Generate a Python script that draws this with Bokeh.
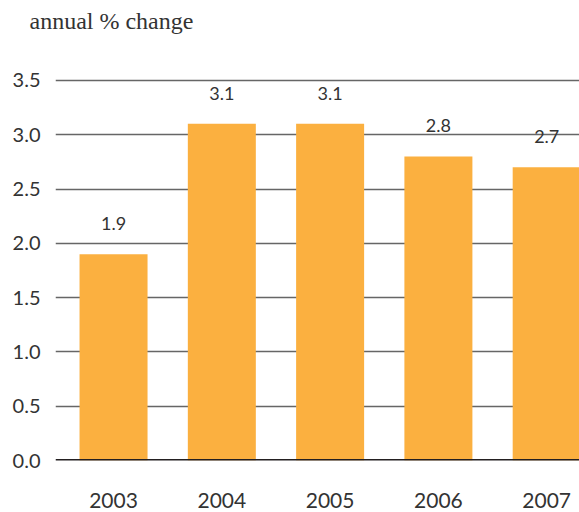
from bokeh.plotting import figure
from bokeh.models import ColumnDataSource, Range1d, FixedTicker, NumeralTickFormatter, Span, LabelSet
from bokeh.core.properties import value
from bokeh.embed import file_html
from bokeh.resources import INLINE

years = [2003, 2004, 2005, 2006, 2007]
values = [1.9, 3.1, 3.1, 2.8, 2.7]
value_labels = ["1.9", "3.1", "3.1", "2.8", "2.7"]
y_ticks = [0.0, 0.5, 1.0, 1.5, 2.0, 2.5, 3.0, 3.5]
y_axis_title = "annual % change"

src = ColumnDataSource(dict(x=years, top=values, lab=value_labels))

p = figure(width=579, height=512, output_backend="svg", toolbar_location=None,
           x_range=Range1d(2002.464, 2007.303), y_range=Range1d(0, 3.886),
           min_border_left=55, min_border_right=0, min_border_bottom=52, min_border_top=0)
p.outline_line_color = None
p.background_fill_color = "white"
p.border_fill_color = "white"

p.title.text = y_axis_title
p.title.align = "left"
p.title.offset = -26
p.title.text_font = "Liberation Serif"
p.title.text_font_style = "normal"
p.title.text_font_size = "24px"
p.title.text_color = "#333333"

p.vbar(x="x", top="top", width=0.628, bottom=0, source=src, color="#FBB040", line_color=None)

p.add_layout(Span(location=0, dimension="width", line_color="#231f20", line_width=3, level="overlay"))

labels = LabelSet(x="x", y="top", text="lab", source=src, y_offset=24, text_align="center",
                  text_baseline="alphabetic", text_font=value("Lato"), text_font_size=value("18px"),
                  text_color=value("#333333"))
p.add_layout(labels)

p.xgrid.grid_line_color = None
p.ygrid.grid_line_color = "#666666"
p.ygrid.grid_line_width = 1.5
p.ygrid.ticker = FixedTicker(ticks=y_ticks)

p.yaxis.ticker = FixedTicker(ticks=y_ticks)
p.yaxis.formatter = NumeralTickFormatter(format="0.0")
p.xaxis.ticker = FixedTicker(ticks=years)
for ax in (p.xaxis, p.yaxis):
    ax.axis_line_color = None
    ax.major_tick_line_color = None
    ax.minor_tick_line_color = None
    ax.major_label_text_font = "Lato"
    ax.major_label_text_color = "#333333"
p.yaxis.major_label_text_font_size = "20px"
p.yaxis.major_label_standoff = 9
p.xaxis.major_label_text_font_size = "21px"
p.xaxis.major_label_standoff = 26

open("out.html", "w").write(file_html(p, INLINE))
